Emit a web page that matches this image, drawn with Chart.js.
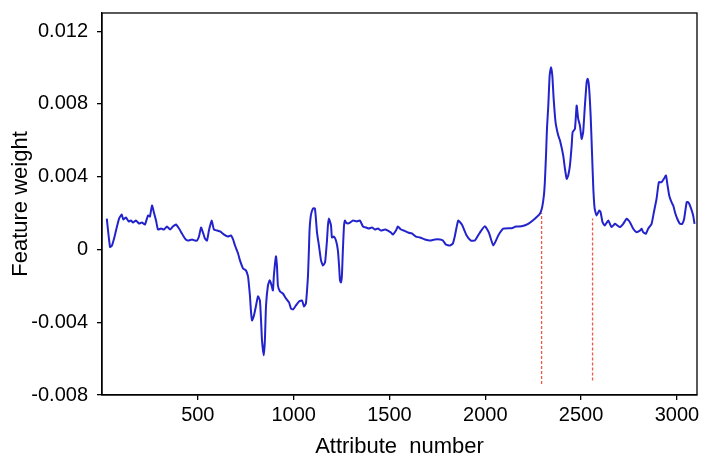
<!DOCTYPE html>
<html>
<head>
<meta charset="utf-8">
<script src="https://cdn.jsdelivr.net/npm/chart.js@4.4.1/dist/chart.umd.min.js"></script>
<style>
  html, body { margin: 0; padding: 0; background: #fff; }
  #c { display: block; }
</style>
</head>
<body>
<canvas id="c" width="701" height="458"></canvas>
<script>
const attributeNumbers = [25,42,52,63,73,89,103,111,125,139,151,162,177,193,209,224,240,250,261,271,282,292,308,323,339,355,370,386,402,417,433,449,470,485,496,506,517,527,537,548,558,572,584,600,616,637,657,673,684,694,710,720,736,751,762,767,772,777,783,793,804,814,824,830,835,844,850,856,866,875,882,892,897,908,913,918,929,944,960,976,986,997,1012,1028,1044,1054,1064,1070,1075,1080,1083,1090,1101,1111,1117,1122,1132,1143,1153,1164,1174,1179,1184,1195,1200,1210,1221,1231,1237,1242,1247,1252,1257,1263,1268,1273,1284,1294,1310,1330,1346,1362,1377,1393,1409,1424,1440,1456,1477,1492,1508,1518,1534,1544,1560,1576,1597,1617,1638,1659,1685,1711,1737,1764,1779,1795,1816,1831,1842,1859,1878,1903,1925,1946,1972,1998,2019,2042,2068,2094,2138,2160,2190,2224,2259,2285,2297,2306,2311,2317,2322,2329,2336,2343,2350,2357,2367,2381,2390,2407,2416,2425,2433,2442,2451,2456,2468,2477,2485,2494,2503,2511,2520,2529,2534,2541,2550,2557,2564,2571,2581,2595,2602,2612,2624,2642,2659,2677,2689,2703,2720,2738,2755,2772,2790,2807,2816,2824,2838,2850,2868,2880,2894,2906,2920,2932,2943,2950,2960,2972,2981,2990,3002,3016,3028,3038,3051,3059,3072,3085,3092];

const featureWeights = [0.00169,0.00013,0.00022,0.00060,0.00104,0.00170,0.00192,0.00165,0.00176,0.00154,0.00159,0.00148,0.00159,0.00143,0.00148,0.00137,0.00187,0.00181,0.00242,0.00203,0.00159,0.00110,0.00115,0.00110,0.00126,0.00110,0.00126,0.00137,0.00115,0.00088,0.00060,0.00049,0.00055,0.00049,0.00049,0.00071,0.00121,0.00093,0.00060,0.00049,0.00104,0.00159,0.00110,0.00104,0.00099,0.00082,0.00071,0.00077,0.00055,0.00022,-0.00022,-0.00060,-0.00104,-0.00115,-0.00148,-0.00198,-0.00253,-0.00335,-0.00390,-0.00363,-0.00308,-0.00258,-0.00280,-0.00390,-0.00500,-0.00582,-0.00500,-0.00308,-0.00198,-0.00170,-0.00187,-0.00225,-0.00143,-0.00038,-0.00088,-0.00198,-0.00231,-0.00242,-0.00269,-0.00291,-0.00324,-0.00330,-0.00308,-0.00286,-0.00280,-0.00313,-0.00297,-0.00225,-0.00143,0.00005,0.00104,0.00187,0.00225,0.00225,0.00159,0.00093,0.00022,-0.00060,-0.00088,-0.00071,0.00049,0.00132,0.00170,0.00132,0.00066,0.00071,0.00049,-0.00005,-0.00088,-0.00170,-0.00181,-0.00143,-0.00005,0.00132,0.00159,0.00148,0.00143,0.00148,0.00159,0.00154,0.00159,0.00126,0.00121,0.00115,0.00121,0.00110,0.00115,0.00104,0.00110,0.00104,0.00093,0.00082,0.00104,0.00126,0.00110,0.00104,0.00093,0.00088,0.00071,0.00066,0.00055,0.00049,0.00055,0.00055,0.00049,0.00027,0.00022,0.00033,0.00077,0.00159,0.00137,0.00077,0.00049,0.00049,0.00093,0.00128,0.00093,0.00022,0.00077,0.00114,0.00117,0.00126,0.00128,0.00141,0.00169,0.00196,0.00232,0.00297,0.00370,0.00516,0.00663,0.00791,0.00956,0.01002,0.00956,0.00828,0.00699,0.00626,0.00599,0.00516,0.00443,0.00388,0.00407,0.00462,0.00571,0.00645,0.00663,0.00791,0.00718,0.00681,0.00608,0.00645,0.00791,0.00919,0.00938,0.00901,0.00736,0.00535,0.00334,0.00224,0.00187,0.00214,0.00205,0.00150,0.00132,0.00159,0.00123,0.00141,0.00132,0.00123,0.00141,0.00169,0.00150,0.00114,0.00095,0.00104,0.00114,0.00095,0.00086,0.00114,0.00141,0.00205,0.00279,0.00370,0.00370,0.00388,0.00407,0.00361,0.00297,0.00260,0.00242,0.00205,0.00169,0.00141,0.00141,0.00169,0.00260,0.00260,0.00232,0.00187,0.00141];

// Red dashed markers delimiting the selected band
const markerPositions = [2294, 2560];
const markerTops = [0.0020, 0.0017];
const markerBottoms = [-0.0074, -0.0072];

const xTickValues = [500, 1000, 1500, 2000, 2500, 3000];
const xTickLabels = ['500', '1000', '1500', '2000', '2500', '3000'];
const yTickValues = [-0.008, -0.004, 0, 0.004, 0.008, 0.012];
const yTickLabels = ['-0.008', '-0.004', '0', '0.004', '0.008', '0.012'];

const FONT = "'Liberation Sans', Arial, sans-serif";

const seriesPoints = attributeNumbers.map((x, i) => ({ x, y: featureWeights[i] }));
const markerSets = markerPositions.map((x, i) => ({
  data: [{ x, y: markerBottoms[i] }, { x, y: markerTops[i] }],
  borderColor: '#ee5a4a',
  borderWidth: 1.3,
  borderDash: [3, 2],
  pointRadius: 0,
  fill: false,
  order: 2
}));

const framePlugin = {
  id: 'frame',
  afterDraw(chart) {
    const { ctx, chartArea: a } = chart;
    ctx.save();
    ctx.strokeStyle = '#000';
    ctx.lineWidth = 1.3;
    ctx.strokeRect(a.left, a.top, a.right - a.left, a.bottom - a.top);
    ctx.restore();
  }
};

new Chart(document.getElementById('c'), {
  type: 'line',
  data: {
    datasets: [
      {
        label: 'Feature weight',
        data: seriesPoints,
        borderColor: '#2323cc',
        borderWidth: 2,
        pointRadius: 0,
        tension: 0.15,
        fill: false,
        order: 1
      },
      ...markerSets
    ]
  },
  options: {
    responsive: false,
    animation: false,
    layout: { padding: { top: 13, right: 4, left: 0, bottom: 0 } },
    plugins: { legend: { display: false }, tooltip: { enabled: false } },
    scales: {
      x: {
        type: 'linear',
        min: 0,
        max: 3105,
        afterBuildTicks: s => { s.ticks = xTickValues.map(v => ({ value: v })); },
        afterFit: s => { s.height = 63; s.paddingLeft = 0; s.paddingRight = 0; },
        ticks: {
          font: { family: FONT, size: 20 },
          color: '#000',
          maxRotation: 0,
          padding: 3,
          callback: (v, i) => xTickLabels[i]
        },
        grid: { display: true, drawOnChartArea: false, drawTicks: true, tickLength: 5, color: '#000', lineWidth: 1.3 },
        border: { display: true, color: '#000', width: 1.3 },
        title: { display: true, text: 'Attribute  number', font: { family: FONT, size: 22, lineHeight: 1 }, color: '#000', padding: { top: 0, bottom: 0 } }
      },
      y: {
        type: 'linear',
        min: -0.008,
        max: 0.013,
        afterBuildTicks: s => { s.ticks = yTickValues.map(v => ({ value: v })); },
        afterFit: s => { s.width = 102; s.paddingTop = 0; s.paddingBottom = 0; },
        ticks: {
          font: { family: FONT, size: 20 },
          color: '#000',
          padding: 9,
          callback: (v, i) => yTickLabels[i]
        },
        grid: { display: true, drawOnChartArea: false, drawTicks: true, tickLength: 5, color: '#000', lineWidth: 1.3 },
        border: { display: true, color: '#000', width: 1.3 },
        title: { display: true, text: 'Feature weight', font: { family: FONT, size: 22 }, color: '#000', padding: { top: 8, bottom: 0 } }
      }
    }
  },
  plugins: [framePlugin]
});
</script>
</body>
</html>
